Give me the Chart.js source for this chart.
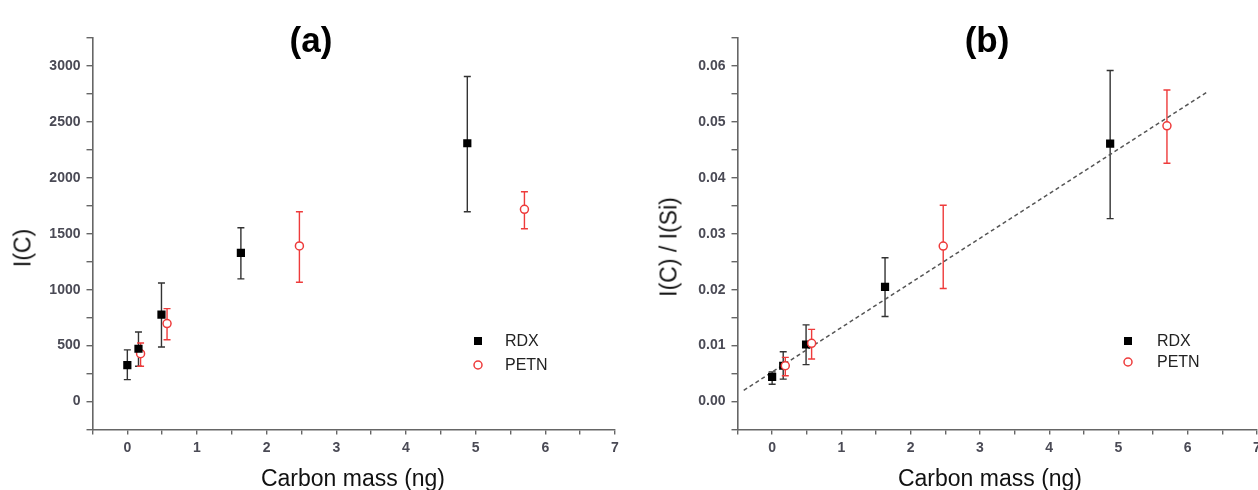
<!DOCTYPE html>
<html>
<head>
<meta charset="utf-8">
<script src="https://cdn.jsdelivr.net/npm/chart.js@4.4.1/dist/chart.umd.min.js"></script>
<style>
  html, body { margin: 0; padding: 0; background: #fff; }
  #wrap { position: relative; width: 1258px; height: 490px; overflow: hidden; background: #fff; font-family: "Liberation Sans", Arial, sans-serif; }
  canvas { position: absolute; top: 0; }
  .title { position: absolute; font-weight: bold; font-size: 35px; color: #000; transform: translateX(-50%); white-space: nowrap; line-height: 1; }
  .xt { position: absolute; font-size: 23px; color: #111; transform: translateX(-50%); white-space: nowrap; line-height: 1; }
  .yt { position: absolute; font-size: 23px; color: #111; white-space: nowrap; line-height: 1; transform: translate(-50%, -50%) rotate(-90deg); }
</style>
</head>
<body>
<div id="wrap">
  <canvas id="ca" width="640" height="490" style="left:0px"></canvas>
  <canvas id="cb" width="645" height="490" style="left:629px"></canvas>
  <div class="title" style="left:311px; top:22px;">(a)</div>
  <div class="title" style="left:987px; top:22px;">(b)</div>
  <div class="xt" style="left:353px; top:467px;">Carbon mass (ng)</div>
  <div class="xt" style="left:990px; top:467px;">Carbon mass (ng)</div>
  <div class="yt" style="left:23px; top:248px;">I(C)</div>
  <div class="yt" style="left:669px; top:247px;">I(C) / I(Si)</div>
</div>
<script>
// ---- data ----
const massRDX  = [0, 0.16, 0.49, 1.63, 4.88];
const massPETN = [0.19, 0.57, 2.47, 5.7];

// panel (a): I(C)
const icRDX     = [325, 472, 777, 1329, 2309];
const icRDXLo   = [196, 316, 488, 1097, 1697];
const icRDXHi   = [462, 621, 1060, 1554, 2906];
const icPETN    = [428, 697, 1391, 1718];
const icPETNLo  = [315, 553, 1067, 1545];
const icPETNHi  = [523, 831, 1697, 1876];

// panel (b): I(C)/I(Si)
const ratioRDX    = [0.0044, 0.0064, 0.0102, 0.0205, 0.0461];
const ratioRDXLo  = [0.0031, 0.0040, 0.0066, 0.0152, 0.0327];
const ratioRDXHi  = [0.0053, 0.0089, 0.0137, 0.0257, 0.0592];
const ratioPETN   = [0.0064, 0.0104, 0.0278, 0.0493];
const ratioPETNLo = [0.0046, 0.0076, 0.0202, 0.0426];
const ratioPETNHi = [0.0079, 0.0129, 0.0351, 0.0557];

// linear fit line (b)
const fitX = [-0.41, 6.30];
const fitY = [0.0020, 0.0555];

const seriesNames = ['RDX', 'PETN'];

// axis ranges / tick steps
const xRange = [-0.5, 7];
const xStep = 0.5;
const yRangeA = [-250, 3250];
const yStepA = 250;
const yRangeB = [-0.005, 0.065];
const yStepB = 0.005;

// ---- styles ----
const RED = '#ee3b3b';
const AXIS = '#666';
const TICKTXT = '#4a4a55';

function pts(xs, ys) { return xs.map((x, i) => ({ x: x, y: ys[i] })); }

const errorBars = {
  id: 'errorBars',
  beforeDatasetsDraw(chart) {
    const ctx = chart.ctx;
    const xs = chart.scales.x, ys = chart.scales.y;
    chart.data.datasets.forEach(ds => {
      if (!ds.errLo) return;
      ctx.save();
      ctx.strokeStyle = ds.errColor;
      ctx.lineWidth = 1.4;
      ds.data.forEach((p, i) => {
        const px = xs.getPixelForValue(p.x);
        const lo = ys.getPixelForValue(ds.errLo[i]);
        const hi = ys.getPixelForValue(ds.errHi[i]);
        ctx.beginPath();
        ctx.moveTo(px, lo); ctx.lineTo(px, hi);
        ctx.moveTo(px - 3.5, lo); ctx.lineTo(px + 3.5, lo);
        ctx.moveTo(px - 3.5, hi); ctx.lineTo(px + 3.5, hi);
        ctx.stroke();
      });
      ctx.restore();
    });
  }
};

function legendPlugin(mx, my1, my2, tx) {
  return {
    id: 'ownLegend',
    afterDraw(chart) {
      const ctx = chart.ctx;
      ctx.save();
      ctx.fillStyle = '#000';
      ctx.fillRect(mx - 4, my1 - 4, 8, 8);
      ctx.beginPath();
      ctx.arc(mx, my2, 4, 0, Math.PI * 2);
      ctx.fillStyle = '#fff';
      ctx.fill();
      ctx.strokeStyle = RED;
      ctx.lineWidth = 1.5;
      ctx.stroke();
      ctx.fillStyle = '#222';
      ctx.font = '16px "Liberation Sans", Arial, sans-serif';
      ctx.textBaseline = 'middle';
      ctx.textAlign = 'left';
      ctx.fillText(seriesNames[0], tx, my1 + 1);
      ctx.fillText(seriesNames[1], tx, my2 + 1);
      ctx.restore();
    }
  };
}

function makeScales(yMin, yMax, yStep, yLabel, yWidth) {
  const tickFont = { family: '"Liberation Sans", Arial, sans-serif', size: 14, weight: 'bold' };
  return {
    x: {
      type: 'linear', min: xRange[0], max: xRange[1],
      afterBuildTicks(s) {
        const t = [];
        for (let v = xRange[0]; v <= xRange[1] + 1e-9; v += xStep) t.push({ value: Math.round(v * 100) / 100 });
        s.ticks = t;
      },
      afterFit(s) { s.height = 490 - 429.5; },
      grid: { drawOnChartArea: false, drawTicks: true, tickLength: 5, color: AXIS, lineWidth: 1.4 },
      border: { display: true, color: AXIS, width: 1.6 },
      ticks: {
        autoSkip: false, maxRotation: 0, padding: 5, color: TICKTXT, font: tickFont,
        callback: v => (Math.abs(v - Math.round(v)) < 1e-6 ? String(Math.round(v)) : '')
      }
    },
    y: {
      type: 'linear', min: yMin, max: yMax,
      afterBuildTicks(s) {
        const t = [];
        const n = Math.round((yMax - yMin) / yStep);
        for (let i = 0; i <= n; i++) t.push({ value: yMin + i * yStep });
        s.ticks = t;
      },
      afterFit(s) { s.width = yWidth; },
      grid: { drawOnChartArea: false, drawTicks: true, tickLength: 6, color: AXIS, lineWidth: 1.4 },
      border: { display: true, color: AXIS, width: 1.6 },
      ticks: { autoSkip: false, padding: 6, color: TICKTXT, font: tickFont, callback: yLabel }
    }
  };
}

Chart.defaults.animation = false;

new Chart(document.getElementById('ca'), {
  type: 'scatter',
  data: {
    datasets: [
      { label: seriesNames[0], data: pts(massRDX, icRDX), errLo: icRDXLo, errHi: icRDXHi, errColor: '#333',
        pointStyle: 'rect', pointRadius: 5.8, backgroundColor: '#000', borderColor: '#000', borderWidth: 0 },
      { label: seriesNames[1], data: pts(massPETN, icPETN), errLo: icPETNLo, errHi: icPETNHi, errColor: RED,
        pointStyle: 'circle', pointRadius: 4, backgroundColor: '#fff', borderColor: RED, borderWidth: 1.5 }
    ]
  },
  options: {
    responsive: false, animation: false,
    layout: { padding: { left: 0, top: 38, right: 25, bottom: 0 } },
    plugins: { legend: { display: false }, tooltip: { enabled: false }, title: { display: false } },
    scales: makeScales(yRangeA[0], yRangeA[1], yStepA,
      v => (Math.abs(v % 500) < 1e-6 ? String(v) : ''), 92.5)
  },
  plugins: [errorBars, legendPlugin(478, 341, 365, 505)]
});

new Chart(document.getElementById('cb'), {
  type: 'scatter',
  data: {
    datasets: [
      { label: 'fit', data: pts(fitX, fitY), showLine: true, borderColor: '#555', borderWidth: 1.5,
        borderDash: [4, 3], pointRadius: 0, order: 5 },
      { label: seriesNames[0], data: pts(massRDX, ratioRDX), errLo: ratioRDXLo, errHi: ratioRDXHi, errColor: '#333',
        pointStyle: 'rect', pointRadius: 5.8, backgroundColor: '#000', borderColor: '#000', borderWidth: 0, order: 1 },
      { label: seriesNames[1], data: pts(massPETN, ratioPETN), errLo: ratioPETNLo, errHi: ratioPETNHi, errColor: RED,
        pointStyle: 'circle', pointRadius: 4, backgroundColor: '#fff', borderColor: RED, borderWidth: 1.5, order: 0 }
    ]
  },
  options: {
    responsive: false, animation: false,
    layout: { padding: { left: 0, top: 38, right: 17, bottom: 0 } },
    plugins: { legend: { display: false }, tooltip: { enabled: false }, title: { display: false } },
    scales: makeScales(yRangeB[0], yRangeB[1], yStepB,
      v => { const k = v * 100; return (Math.abs(k - Math.round(k)) < 1e-6 && v > -1e-9) ? (Math.round(k) / 100).toFixed(2) : ''; }, 108.5)
  },
  plugins: [errorBars, legendPlugin(499, 341, 362, 528)]
});
</script>
</body>
</html>
